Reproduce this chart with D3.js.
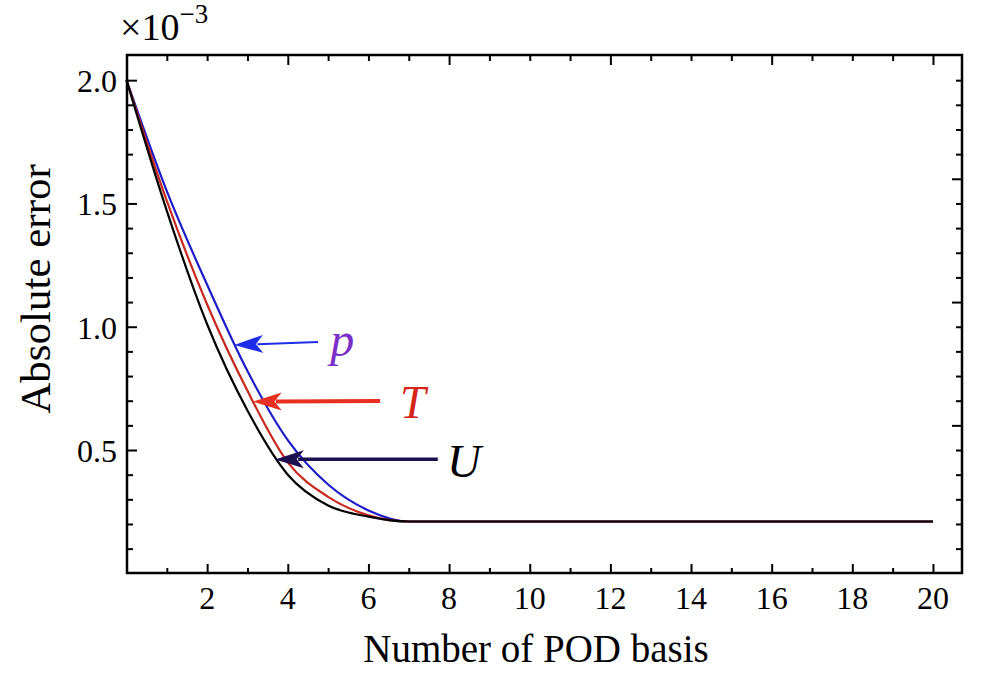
<!DOCTYPE html>
<html>
<head>
<meta charset="utf-8">
<script src="https://cdn.jsdelivr.net/npm/d3@7"></script>
<style>
  html, body { margin: 0; padding: 0; background: #fff; }
  svg { display: block; }
  text { font-family: "Liberation Serif", "Times New Roman", serif; }
</style>
</head>
<body>
<svg id="chart" width="1000" height="700"></svg>
<script>
// ---------------- data ----------------
const basisCount = [0,1,2,3,4,5,6,7,8,9,10,11,12,13,14,15,16,17,18,19,20];
const errP = [2.0,1.55,1.17,0.82,0.54,0.36,0.255,0.21,0.21,0.21,0.21,0.21,0.21,0.21,0.21,0.21,0.21,0.21,0.21,0.21,0.21];
const errT = [2.0,1.51,1.09,0.74,0.45,0.31,0.235,0.21,0.21,0.21,0.21,0.21,0.21,0.21,0.21,0.21,0.21,0.21,0.21,0.21,0.21];
const errU = [2.0,1.47,1.01,0.66,0.40,0.275,0.23,0.21,0.21,0.21,0.21,0.21,0.21,0.21,0.21,0.21,0.21,0.21,0.21,0.21,0.21];
const seriesNames = ["p", "T", "U"];

const xTickLabels = [2,4,6,8,10,12,14,16,18,20];
const xMinorTicks = [1,3,5,7,9,11,13,15,17,19];
const xTopMajor = [4,8,12,16,20];
const xTopMinor = [1,2,3,5,6,7,9,10,11,13,14,15,17,18,19];
const yTickLabels = [0.5,1.0,1.5,2.0];
const yMinorTicks = [0.1,0.2,0.3,0.4,0.6,0.7,0.8,0.9,1.1,1.2,1.3,1.4,1.6,1.7,1.8,1.9];
const yRightMajor = [0.6,1.1,1.6];
const yRightMinor = [0.1,0.2,0.3,0.4,0.5,0.7,0.8,0.9,1.0,1.2,1.3,1.4,1.5,1.7,1.8,1.9,2.0];

// annotation arrows (data coordinates)
const arrowTips  = [[2.67,0.926],[3.13,0.696],[3.68,0.462]];
const arrowTails = [[4.75,0.938],[6.29,0.699],[7.72,0.463]];
const labelPos   = [[5.05,0.88],[6.78,0.63],[7.95,0.39]];

// ---------------- layout ----------------
const svg = d3.select("#chart");
const L = 127, R = 962, T = 55, B = 573;
const x = d3.scaleLinear().domain([0, 20.72]).range([126.5, 962]);
const y = d3.scaleLinear().domain([0, 2.1]).range([573.3, 55.5]);

// curves
const line = d3.line().x((d, i) => x(basisCount[i])).y(d => y(d)).curve(d3.curveMonotoneX);
const colors = { p: "#1c1cc8", T: "#c8281e", U: "#000000" };
const seriesData = { p: errP, T: errT, U: errU };
const g = svg.append("g");
["p","T","U"].forEach(k => {
  g.append("path").attr("d", line(seriesData[k]))
    .attr("fill","none").attr("stroke", colors[k]).attr("stroke-width", 2.2)
    .attr("stroke-linejoin","round");
});

// axes with inward ticks
function addAxis(axisGen, transform, values, size) {
  const a = svg.append("g").attr("transform", transform)
    .call(axisGen.tickValues(values).tickSize(size).tickFormat(""));
  a.select(".domain").remove();
  a.selectAll("line").attr("stroke","#000").attr("stroke-width", 2);
  return a;
}
addAxis(d3.axisBottom(x), `translate(0,${B})`, xTickLabels, -9);
addAxis(d3.axisBottom(x), `translate(0,${B})`, xMinorTicks, -5);
addAxis(d3.axisTop(x), `translate(0,${T})`, xTopMajor, -10);
addAxis(d3.axisTop(x), `translate(0,${T})`, xTopMinor, -6);
addAxis(d3.axisLeft(y), `translate(${L},0)`, yTickLabels, -10);
addAxis(d3.axisLeft(y), `translate(${L},0)`, yMinorTicks, -6);
addAxis(d3.axisRight(y), `translate(${R},0)`, yRightMajor, -10);
addAxis(d3.axisRight(y), `translate(${R},0)`, yRightMinor, -6);

// tick labels
svg.append("g").selectAll("text").data(xTickLabels).join("text")
  .attr("x", d => x(d)).attr("y", 609)
  .attr("text-anchor","middle").attr("font-size", 32).attr("fill","#000")
  .text(d => d);
svg.append("g").selectAll("text").data(yTickLabels).join("text")
  .attr("x", 117).attr("y", d => y(d) + 12)
  .attr("text-anchor","end").attr("font-size", 32).attr("fill","#000")
  .text(d => d.toFixed(1));

// frame
svg.append("rect").attr("x", L).attr("y", T).attr("width", R - L).attr("height", B - T)
  .attr("fill","none").attr("stroke","#000").attr("stroke-width", 2.5);

// exponent label
const ex = svg.append("text").attr("x", 120).attr("y", 40).attr("font-size", 38).attr("fill","#000");
ex.append("tspan").text("×10");
ex.append("tspan").attr("font-size", 27).attr("dy", -17).text("−3");

// axis titles
svg.append("text").attr("x", 536).attr("y", 662).attr("text-anchor","middle")
  .attr("font-size", 39).attr("fill","#000").text("Number of POD basis");
svg.append("text").attr("transform","translate(50,289) rotate(-90)").attr("text-anchor","middle")
  .attr("font-size", 43).attr("fill","#000").text("Absolute error");

// arrows
const arrowColors = ["#1e2ee8", "#e83020", "#1a1050"];
const arrowWidths = [2, 4, 3.5];
const labelColors = ["#7a2ec8", "#d42418", "#000000"];
const labelSizes = [48, 46, 47];
arrowTips.forEach((tip, i) => {
  const tx = x(tip[0]), ty = y(tip[1]);
  const sx = x(arrowTails[i][0]), sy = y(arrowTails[i][1]);
  const ang = Math.atan2(sy - ty, sx - tx);
  const hl = 29, hw = 9;
  const cos = Math.cos(ang), sin = Math.sin(ang);
  const pt = (a, b) => [tx + a * cos - b * sin, ty + a * sin + b * cos];
  svg.append("line").attr("x1", sx).attr("y1", sy)
    .attr("x2", pt(hl * 0.8, 0)[0]).attr("y2", pt(hl * 0.8, 0)[1])
    .attr("stroke", arrowColors[i]).attr("stroke-width", arrowWidths[i]);
  const poly = [pt(0,0), pt(hl, hw), pt(hl * 0.75, 0), pt(hl, -hw)];
  svg.append("path").attr("d", "M" + poly.map(p => p.join(",")).join("L") + "Z")
    .attr("fill", arrowColors[i]);
  svg.append("text").attr("x", x(labelPos[i][0])).attr("y", y(labelPos[i][1]))
    .attr("font-size", labelSizes[i]).attr("font-style","italic")
    .attr("fill", labelColors[i]).text(seriesNames[i]);
});
</script>
</body>
</html>
